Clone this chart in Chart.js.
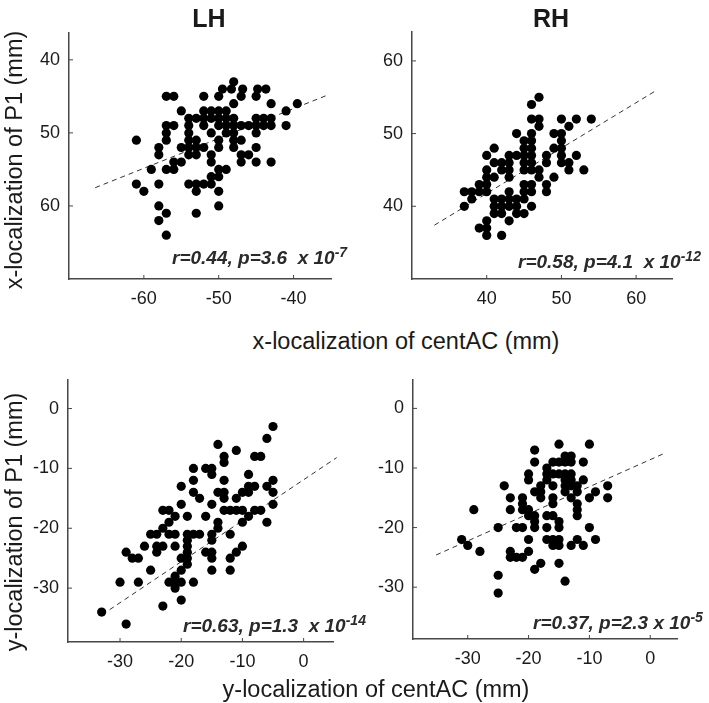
<!DOCTYPE html>
<html>
<head>
<meta charset="utf-8">
<script src="https://cdn.jsdelivr.net/npm/chart.js@4.4.1/dist/chart.umd.min.js"></script>
<style>
    body { margin: 0; width: 709px; height: 703px; background: #fff; position: relative; overflow: hidden;
           font-family: "Liberation Sans", Arial, sans-serif; color: #1a1a1a; }
    canvas, .lbl { position: absolute; }
    .lbl { white-space: pre; line-height: 1; }
    .head { font-weight: bold; font-size: 25px; transform: translate(-50%, -50%); }
    .axt { font-size: 23.5px; transform: translate(-50%, -50%); }
    .axt.rot { transform: translate(-50%, -50%) rotate(-90deg); }
    .stat { font-size: 19px; font-weight: bold; font-style: italic; color: #2a2a2a; transform: translateY(-50%); }
    .stat sup { font-size: 14px; vertical-align: 0.5em; line-height: 0; }
</style>
</head>
<body>
<canvas id="xLh"></canvas>
<canvas id="xRh"></canvas>
<canvas id="yLh"></canvas>
<canvas id="yRh"></canvas>

<div class="lbl head" style="left:209px; top:18px;">LH</div>
<div class="lbl head" style="left:551px; top:18px;">RH</div>
<div class="lbl axt rot" style="left:15px; top:160px;">x-localization of P1 (mm)</div>
<div class="lbl axt" style="left:406px; top:342px;">x-localization of centAC (mm)</div>
<div class="lbl axt rot" style="left:15px; top:522px;">y-localization of P1 (mm)</div>
<div class="lbl axt" style="left:376px; top:690px;">y-localization of centAC (mm)</div>
<div class="lbl stat" style="left:172px; top:257px;">r=0.44, p=3.6  x 10<sup>-7</sup></div>
<div class="lbl stat" style="left:518px; top:261px;">r=0.58, p=4.1  x 10<sup>-12</sup></div>
<div class="lbl stat" style="left:183px; top:625px;">r=0.63, p=1.3  x 10<sup>-14</sup></div>
<div class="lbl stat" style="left:533px; top:622px;">r=0.37, p=2.3 x 10<sup>-5</sup></div>

<script>
// x-localization, left hemisphere (centAC vs P1, mm)
const xLhCentAC = [-48,
    -49.5, -48.3, -46.8, -44.8, -43.7,
    -57, -56, -52, -50, -47, -45,
    -48, -43, -39.5,
    -55, -52, -51, -50, -49, -41,
    -54, -53, -52, -51, -50, -49, -48, -45, -44, -43,
    -57, -56, -54, -52, -50, -49, -48, -47, -46, -45, -44, -43, -41,
    -57, -54, -51, -49, -48, -45,
    -61, -57, -54, -53, -50, -48, -47,
    -58, -55, -54, -53, -52, -50, -48, -45,
    -58, -54, -53, -51, -47, -46,
    -56, -55, -51, -47, -45, -43,
    -59, -57, -56, -50, -49,
    -51, -50,
    -61, -58, -54, -53, -52, -51,
    -60, -53, -50,
    -58, -50,
    -57, -53,
    -58,
    -57];
const xLhP1 = [43,
    44, 44, 44, 44, 44,
    45, 45, 45, 45, 45, 45,
    46, 46, 46,
    47, 47, 47, 47, 47, 47,
    48, 48, 48, 48, 48, 48, 48, 48, 48, 48,
    49, 49, 49, 49, 49, 49, 49, 49, 49, 49, 49, 49, 49,
    50, 50, 50, 50, 50, 50,
    51, 51, 51, 51, 51, 51, 51,
    52, 52, 52, 52, 52, 52, 52, 52,
    53, 53, 53, 53, 53, 53,
    54, 54, 54, 54, 54, 54,
    55, 55, 55, 55, 55,
    56, 56,
    57, 57, 57, 57, 57, 57,
    58, 58, 58,
    60, 60,
    61, 61,
    62,
    64];
const xLhFitX = [-66.5, -35.4];
const xLhFitY = [57.5, 44.8];

// x-localization, right hemisphere
const xRhCentAC = [47,
    46,
    46, 47, 50, 52, 54,
    47, 51,
    44, 46, 49, 50,
    45, 46, 50,
    41, 45, 46, 49, 50,
    40, 43, 44, 45, 46, 48, 50, 52,
    41, 42, 43, 45, 46, 48, 50, 51,
    40, 42, 43, 45, 46, 47, 51, 53,
    40, 41, 43, 47, 49,
    39, 40, 45, 46, 48,
    37, 38, 39, 40, 43, 45, 46, 48,
    38, 41, 42, 43, 44, 45,
    37, 41, 42, 43, 44, 46,
    41, 42, 44, 45,
    40, 43,
    39, 40,
    40, 42];
const xRhP1 = [55,
    54,
    52, 52, 52, 52, 52,
    51, 51,
    50, 50, 50, 50,
    49, 49, 49,
    48, 48, 48, 48, 48,
    47, 47, 47, 47, 47, 47, 47, 47,
    46, 46, 46, 46, 46, 46, 46, 46,
    45, 45, 45, 45, 45, 45, 45, 45,
    44, 44, 44, 44, 44,
    43, 43, 43, 43, 43,
    42, 42, 42, 42, 42, 42, 42, 42,
    41, 41, 41, 41, 41, 41,
    40, 40, 40, 40, 40, 40,
    39, 39, 39, 39,
    38, 38,
    37, 37,
    36, 36];
const xRhFitX = [33, 62.8];
const xRhFitY = [37.4, 56];

// y-localization, left hemisphere
const yLhCentAC = [-5, -6, -14, -11, -8, -7, -13, -13,
    -18, -16, -15, -15, -9,
    -18, -13, -5,
    -20, -9, -8, -6,
    -10, -9, -5, -18, -14, -13,
    -17, -13, -11,
    -5, -20, -15,
    -23, -22, -13, -12, -11, -10, -8, -7,
    -21, -19, -16, -9,
    -14, -10, -6, -22,
    -23, -14,
    -25, -24, -22, -21, -19, -18, -17, -15, -12,
    -19, -15,
    -26, -24, -23, -21, -19, -10,
    -24, -19, -29, -16, -15, -11,
    -28, -27, -20, -19, -15, -12,
    -19,
    -25, -20, -15, -12,
    -21,
    -30, -27, -22, -21, -20, -18,
    -21, -20, -23, -33, -29];
const yLhP1 = [-3, -5, -6, -7, -8, -8, -8, -9,
    -10, -10, -10, -11, -11,
    -12, -12, -12,
    -13, -13, -13, -13,
    -14, -14, -14, -14, -14, -14,
    -15, -15, -15,
    -16, -16, -16,
    -17, -17, -17, -17, -17, -17, -17, -17,
    -18, -18, -18, -18,
    -19, -19, -19, -19,
    -20, -20,
    -21, -21, -21, -21, -21, -21, -21, -21, -21,
    -22, -22,
    -23, -23, -23, -23, -23, -23,
    -24, -24, -24, -24, -24, -24,
    -25, -25, -25, -25, -25, -25,
    -26,
    -27, -27, -27, -27,
    -28,
    -29, -29, -29, -29, -29, -29,
    -30, -32, -33, -34, -36];
const yLhFitX = [-31.7, 5.4];
const yLhFitY = [-33.6, -8.2];

// y-localization, right hemisphere
const yRhCentAC = [-15, -10,
    -19,
    -14, -13,
    -19, -16, -15, -14, -13, -11,
    -17,
    -20, -17, -16, -15, -14, -13,
    -20, -17, -14, -13, -11,
    -24, -18, -16, -14, -13, -12, -7,
    -19, -18, -14, -12, -9,
    -23, -21, -18, -16, -13, -10, -7,
    -21, -16, -12,
    -29, -23, -21, -20, -12,
    -20, -19, -17, -16, -12,
    -19, -15,
    -25, -22, -21, -19, -17, -15, -10,
    -31, -20, -17, -16, -15, -12, -9,
    -30, -16, -15, -13, -11,
    -28, -23, -20,
    -23, -22, -21,
    -18, -15,
    -19, -25, -14, -25];
const yRhP1 = [-6, -6,
    -7,
    -8, -8,
    -9, -9, -9, -9, -9, -9,
    -10,
    -11, -11, -11, -11, -11, -11,
    -12, -12, -12, -12, -12,
    -13, -13, -13, -13, -13, -13, -13,
    -14, -14, -14, -14, -14,
    -15, -15, -15, -15, -15, -15, -15,
    -16, -16, -16,
    -17, -17, -17, -17, -17,
    -18, -18, -18, -18, -18,
    -19, -19,
    -20, -20, -20, -20, -20, -20, -20,
    -22, -22, -22, -22, -22, -22, -22,
    -23, -23, -23, -23, -23,
    -24, -24, -24,
    -25, -25, -25,
    -26, -26,
    -27, -28, -29, -31];
const yRhFitX = [-35.2, 2.2];
const yRhFitY = [-24.6, -7.6];

const xLhTicksX = [-60, -50, -40];
const xLhTicksY = [40, 50, 60];
const xRhTicksX = [40, 50, 60];
const xRhTicksY = [40, 50, 60];
const yTicksX = [-30, -20, -10, 0];
const yTicksY = [-30, -20, -10, 0];

const axisColor = '#474747';
const tickFont = {family: '"Liberation Sans", Arial, sans-serif', size: 18};

// MATLAB style ticks pointing into the plot
const inwardTicks = {
    id: 'inwardTicks',
    afterDraw(chart) {
        const {ctx, chartArea, scales} = chart;
        ctx.save();
        ctx.strokeStyle = axisColor;
        ctx.lineWidth = 1;
        scales.x.ticks.forEach(t => {
            const px = scales.x.getPixelForValue(t.value);
            ctx.beginPath();
            ctx.moveTo(px, chartArea.bottom);
            ctx.lineTo(px, chartArea.bottom - 4);
            ctx.stroke();
        });
        scales.y.ticks.forEach(t => {
            const py = scales.y.getPixelForValue(t.value);
            ctx.beginPath();
            ctx.moveTo(chartArea.left, py);
            ctx.lineTo(chartArea.left + 4, py);
            ctx.stroke();
        });
        ctx.restore();
    }
};

// plot = [left, top, right, bottom] of the axes box on the page
function makePanel(id, plot, xs, ys, fitX, fitY, xRange, yRange, xTicks, yTicks, reverseY) {
    const yAxisW = 50, xAxisH = 40, padTop = 15, padRight = 20;
    const canvas = document.getElementById(id);
    canvas.width = plot[2] - plot[0] + yAxisW + padRight;
    canvas.height = plot[3] - plot[1] + padTop + xAxisH;
    canvas.style.left = (plot[0] - yAxisW) + 'px';
    canvas.style.top = (plot[1] - padTop) + 'px';

    const points = xs.map((x, i) => ({x: x, y: ys[i]}));
    const fit = fitX.map((x, i) => ({x: x, y: fitY[i]}));
    const axis = (range, ticks, extra) => Object.assign({
        type: 'linear',
        min: range[0],
        max: range[1],
        afterBuildTicks: s => { s.ticks = ticks.map(v => ({value: v})); },
        grid: {drawOnChartArea: false, drawTicks: false},
        border: {display: true, color: axisColor, width: 1.5},
        ticks: {font: tickFont, color: '#1a1a1a', padding: 9}
    }, extra);

    return new Chart(canvas, {
        type: 'scatter',
        data: {
            datasets: [
                {
                    data: points,
                    backgroundColor: '#000',
                    borderColor: '#000',
                    borderWidth: 0,
                    pointRadius: 4.6,
                    pointHoverRadius: 4.6
                },
                {
                    type: 'line',
                    data: fit,
                    borderColor: '#333',
                    borderWidth: 1,
                    borderDash: [5, 4],
                    pointRadius: 0,
                    fill: false,
                    clip: false
                }
            ]
        },
        options: {
            responsive: false,
            animation: false,
            devicePixelRatio: 1,
            layout: {padding: {left: 0, top: padTop, right: padRight, bottom: 0}},
            plugins: {legend: {display: false}, tooltip: {enabled: false}},
            scales: {
                x: axis(xRange, xTicks, {afterFit: s => { s.height = xAxisH; }}),
                y: axis(yRange, yTicks, {reverse: reverseY, afterFit: s => { s.width = yAxisW; }})
            }
        },
        plugins: [inwardTicks]
    });
}

makePanel('xLh', [69, 28, 331, 279], xLhCentAC, xLhP1, xLhFitX, xLhFitY, [-70, -35], [36.3, 70], xLhTicksX, xLhTicksY, true);
makePanel('xRh', [412, 27, 672, 279], xRhCentAC, xRhP1, xRhFitX, xRhFitY, [30, 64.8], [30, 64], xRhTicksX, xRhTicksY, false);
makePanel('yLh', [68, 375, 333, 642], yLhCentAC, yLhP1, yLhFitX, yLhFitY, [-38.5, 4.8], [-39, 4.8], yTicksX, yTicksY, false);
makePanel('yRh', [413, 375, 677, 639], yRhCentAC, yRhP1, yRhFitX, yRhFitY, [-39, 4.4], [-38.7, 4.8], yTicksX, yTicksY, false);
</script>
</body>
</html>
